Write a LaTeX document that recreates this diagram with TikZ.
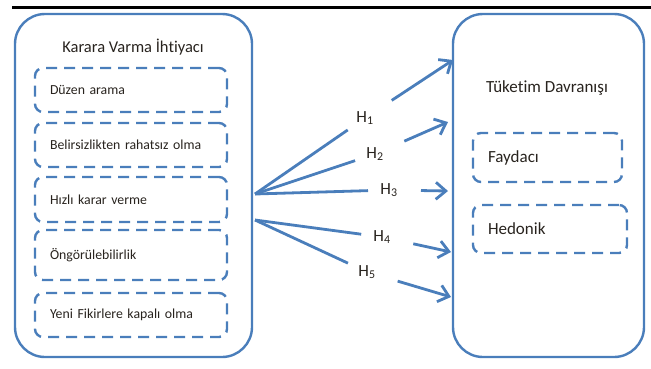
\documentclass[tikz,border=0pt]{standalone}
\usepackage{fontspec}
\setmainfont{Carlito}[Ligatures=NoCommon]
\usetikzlibrary{positioning,arrows.meta}
\definecolor{boxblue}{RGB}{74,126,187}
\definecolor{txtgray}{RGB}{40,35,30}

\begin{document}
\begin{tikzpicture}[x=1pt, y=-1pt,
    bigbox/.style={rectangle, draw=boxblue, line width=2.4pt, rounded corners=30pt, minimum height=343pt},
    % dashed inner boxes, text set flush left
    item/.style={rectangle, draw=boxblue, line width=2.4pt, dash pattern=on 11pt off 7pt, rounded corners=8pt, align=left, inner xsep=15pt, inner ysep=0pt, minimum height=44pt, text=txtgray, font=\fontsize{13.8}{15}\selectfont},
    title/.style={text=txtgray, font=\fontsize{16.5}{19}\selectfont},
    hlabel/.style={inner sep=0pt, text=txtgray, font=\fontsize{17}{19}\selectfont},
    % Split connectors: first part stops short of the label, second part starts past it
    hline/.style={draw=boxblue, line width=2.8pt, shorten >=21pt},
    harrow/.style={draw=boxblue, line width=2.8pt, shorten <=32pt, -{Straight Barb[length=10pt,width=17pt]}}
  ]
    \useasboundingbox (0,0) rectangle (651,368);

    %--- rule on top ---
    \draw[line width=2.5pt] (12,7.5) -- (651,7.5);

    %--- Left block ---
    \node[bigbox, minimum width=237pt] (need) at (133.5,185.5) {};
    \node[title] (needtitle) at (133,47) {Karara Varma İhtiyacı};
    \node[item, text width=162pt] (order)   at (131,90)    {Düzen arama};
    \node[item, text width=162pt] (uncert)  at (131,145)   {Belirsizlikten rahatsız olma};
    \node[item, text width=162pt, minimum height=45pt] (fast) at (131,199.5) {Hızlı karar verme};
    \node[item, text width=162pt, minimum height=50pt] (predict) at (131,255) {Öngörülebilirlik};
    \node[item, text width=162pt] (closed)  at (131,315)   {Yeni Fikirlere kapalı olma};

    %--- Right block ---
    \node[bigbox, minimum width=191pt] (behav) at (548.5,185.5) {};
    \node[title, font=\fontsize{17}{19}\selectfont] (behavtitle) at (547,88) {Tüketim Davranışı};
    \node[item, text width=119pt, minimum height=49pt, font=\fontsize{17}{19}\selectfont] (util) at (547.5,157.5) {Faydacı};
    \node[item, text width=124pt, minimum height=48pt, font=\fontsize{17}{19}\selectfont] (hedon) at (550,229) {Hedonik};

    %--- Hypothesis labels and end points ---
    \coordinate (out1) at (255,194);
    \coordinate (out2) at (255,220);
    \node[hlabel] (h1) at (365,118) {H\textsubscript{1}};
    \node[hlabel] (h2) at (375,154) {H\textsubscript{2}};
    \node[hlabel] (h3) at (389,190) {H\textsubscript{3}};
    \node[hlabel] (h4) at (382,237) {H\textsubscript{4}};
    \node[hlabel] (h5) at (367,272) {H\textsubscript{5}};
    \coordinate (t1) at (453,60);
    \coordinate (t2) at (448,122);
    \coordinate (t3) at (448,191);
    \coordinate (t4) at (451,252);
    \coordinate (t5) at (451,297);

    %--- Connectors ---
    \draw[hline] (out1) -- (h1.center);
    \draw[hline] (out1) -- (h2.center);
    \draw[hline] (out1) -- (h3.center);
    \draw[hline] (out2) -- (h4.center);
    \draw[hline] (out2) -- (h5.center);
    \draw[harrow] (h1.center) -- (t1);
    \draw[harrow] (h2.center) -- (t2);
    \draw[harrow] (h3.center) -- (t3);
    \draw[harrow] (h4.center) -- (t4);
    \draw[harrow] (h5.center) -- (t5);
\end{tikzpicture}
\end{document}
